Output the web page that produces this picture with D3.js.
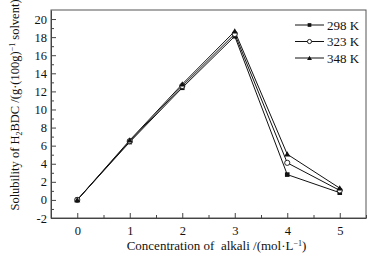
<!DOCTYPE html>
<html>
<head>
<meta charset="utf-8">
<script src="https://cdn.jsdelivr.net/npm/d3@7"></script>
<style>
  body { margin: 0; background: #fff; }
  svg { display: block; font-family: "Liberation Serif", "Times New Roman", serif; }
  .axis path, .axis line { stroke: #444; }
  .axis text { fill: #111; font-size: 12.5px; font-family: "Liberation Serif", serif; }
</style>
</head>
<body>
<div id="chart"></div>
<script>
// Data
var concentrations = [0, 1, 2, 3, 4, 5];
var sol298 = [0, 6.4, 12.4, 18.1, 2.8, 0.8];
var sol323 = [0, 6.5, 12.6, 18.35, 4.1, 1.05];
var sol348 = [0, 6.6, 12.8, 18.65, 5.05, 1.3];
var seriesNames = ["298 K", "323 K", "348 K"];
var xTicks = [0, 1, 2, 3, 4, 5];
var yTicks = [-2, 0, 2, 4, 6, 8, 10, 12, 14, 16, 18, 20];

(function () {
    "use strict";

    var W = 376, H = 256;
    var margin = { top: 10, right: 10, bottom: 38, left: 51 };
    var width = W - margin.left - margin.right;
    var height = H - margin.top - margin.bottom;

    var svg = d3.select("#chart").append("svg")
        .attr("width", W).attr("height", H);
    var g = svg.append("g")
        .attr("transform", "translate(" + margin.left + "," + margin.top + ")");

    var x = d3.scaleLinear().domain([-0.5, 5.5]).range([0, width]);
    var y = d3.scaleLinear().domain([-2, 21]).range([height, 0]);

    // Frame (top/right)
    g.append("rect")
        .attr("x", 0).attr("y", 0)
        .attr("width", width).attr("height", height)
        .attr("fill", "none").attr("stroke", "#555").attr("stroke-width", 1);

    // Minor ticks
    var xMinor = d3.range(-0.5, 5.51, 0.5).filter(function (v) { return v % 1 !== 0; });
    g.append("g").attr("class", "axis")
        .attr("transform", "translate(0," + height + ")")
        .call(d3.axisBottom(x).tickValues(xMinor).tickSize(-3).tickFormat(""))
        .call(function (s) { s.select(".domain").remove(); });
    var yMinor = d3.range(-1, 21, 2);
    g.append("g").attr("class", "axis")
        .call(d3.axisLeft(y).tickValues(yMinor).tickSize(-3).tickFormat(""))
        .call(function (s) { s.select(".domain").remove(); });

    // Major axes, ticks pointing inward
    g.append("g").attr("class", "axis")
        .attr("transform", "translate(0," + height + ")")
        .call(d3.axisBottom(x).tickValues(xTicks).tickSizeInner(-5).tickSizeOuter(0).tickPadding(8)
            .tickFormat(d3.format("d")));
    g.append("g").attr("class", "axis")
        .call(d3.axisLeft(y).tickValues(yTicks).tickSizeInner(-5).tickSizeOuter(0).tickPadding(4)
            .tickFormat(function (d) { return d < 0 ? "-" + Math.abs(d) : d; }));

    var allSeries = [sol298, sol323, sol348];
    var line = d3.line()
        .x(function (d, i) { return x(concentrations[i]); })
        .y(function (d) { return y(d); });

    allSeries.forEach(function (vals) {
        g.append("path").datum(vals)
            .attr("d", line)
            .attr("fill", "none")
            .attr("stroke", "#111")
            .attr("stroke-width", 1);
    });

    function drawMarker(sel, k, cx, cy, s) {
        s = s || 1;
        if (k === 0) {
            sel.append("rect")
                .attr("x", cx - 2.3 * s).attr("y", cy - 2.3 * s)
                .attr("width", 4.6 * s).attr("height", 4.6 * s)
                .attr("fill", "#111");
        } else if (k === 1) {
            sel.append("circle")
                .attr("cx", cx).attr("cy", cy).attr("r", 2.6 * s)
                .attr("fill", "#fff").attr("stroke", "#111").attr("stroke-width", 0.9);
        } else {
            sel.append("path")
                .attr("d", d3.symbol().type(d3.symbolTriangle).size(16 * s * s)())
                .attr("transform", "translate(" + cx + "," + (cy + 0.5) + ")")
                .attr("fill", "#111");
        }
    }

    allSeries.forEach(function (vals, k) {
        var mg = g.append("g");
        vals.forEach(function (v, i) {
            drawMarker(mg, k, x(concentrations[i]), y(v));
        });
    });

    // Legend
    var lg = svg.append("g");
    seriesNames.forEach(function (name, k) {
        var ly = 25 + k * 16.5;
        lg.append("line")
            .attr("x1", 295).attr("x2", 324)
            .attr("y1", ly).attr("y2", ly)
            .attr("stroke", "#111").attr("stroke-width", 1);
        drawMarker(lg, k, 309.5, ly, 0.8);
        lg.append("text")
            .attr("x", 327).attr("y", ly)
            .attr("dy", "0.35em")
            .attr("font-size", "13px")
            .attr("fill", "#111")
            .text(name);
    });

    // Axis titles
    var xt = svg.append("text")
        .attr("x", margin.left + width / 2 + 8)
        .attr("y", 250)
        .attr("text-anchor", "middle")
        .attr("font-size", "13px")
        .attr("fill", "#111")
        .style("white-space", "pre");
    xt.append("tspan").text("Concentration of\u00A0 alkali /(mol\u00B7L");
    xt.append("tspan").attr("dy", -4).attr("font-size", "8px").text("\u22121");
    xt.append("tspan").attr("dy", 4).text(")");

    var yt = svg.append("text")
        .attr("transform", "translate(19," + 105 + ") rotate(-90)")
        .attr("text-anchor", "middle")
        .attr("font-size", "12.5px")
        .attr("fill", "#111");
    yt.append("tspan").text("Solubility of H");
    yt.append("tspan").attr("dy", 3).attr("font-size", "8px").text("2");
    yt.append("tspan").attr("dy", -3).text("BDC /(g\u00B7(100g)");
    yt.append("tspan").attr("dy", -4).attr("font-size", "8px").text("\u22121");
    yt.append("tspan").attr("dy", 4).text(" solvent)");
})();
</script>
</body>
</html>
